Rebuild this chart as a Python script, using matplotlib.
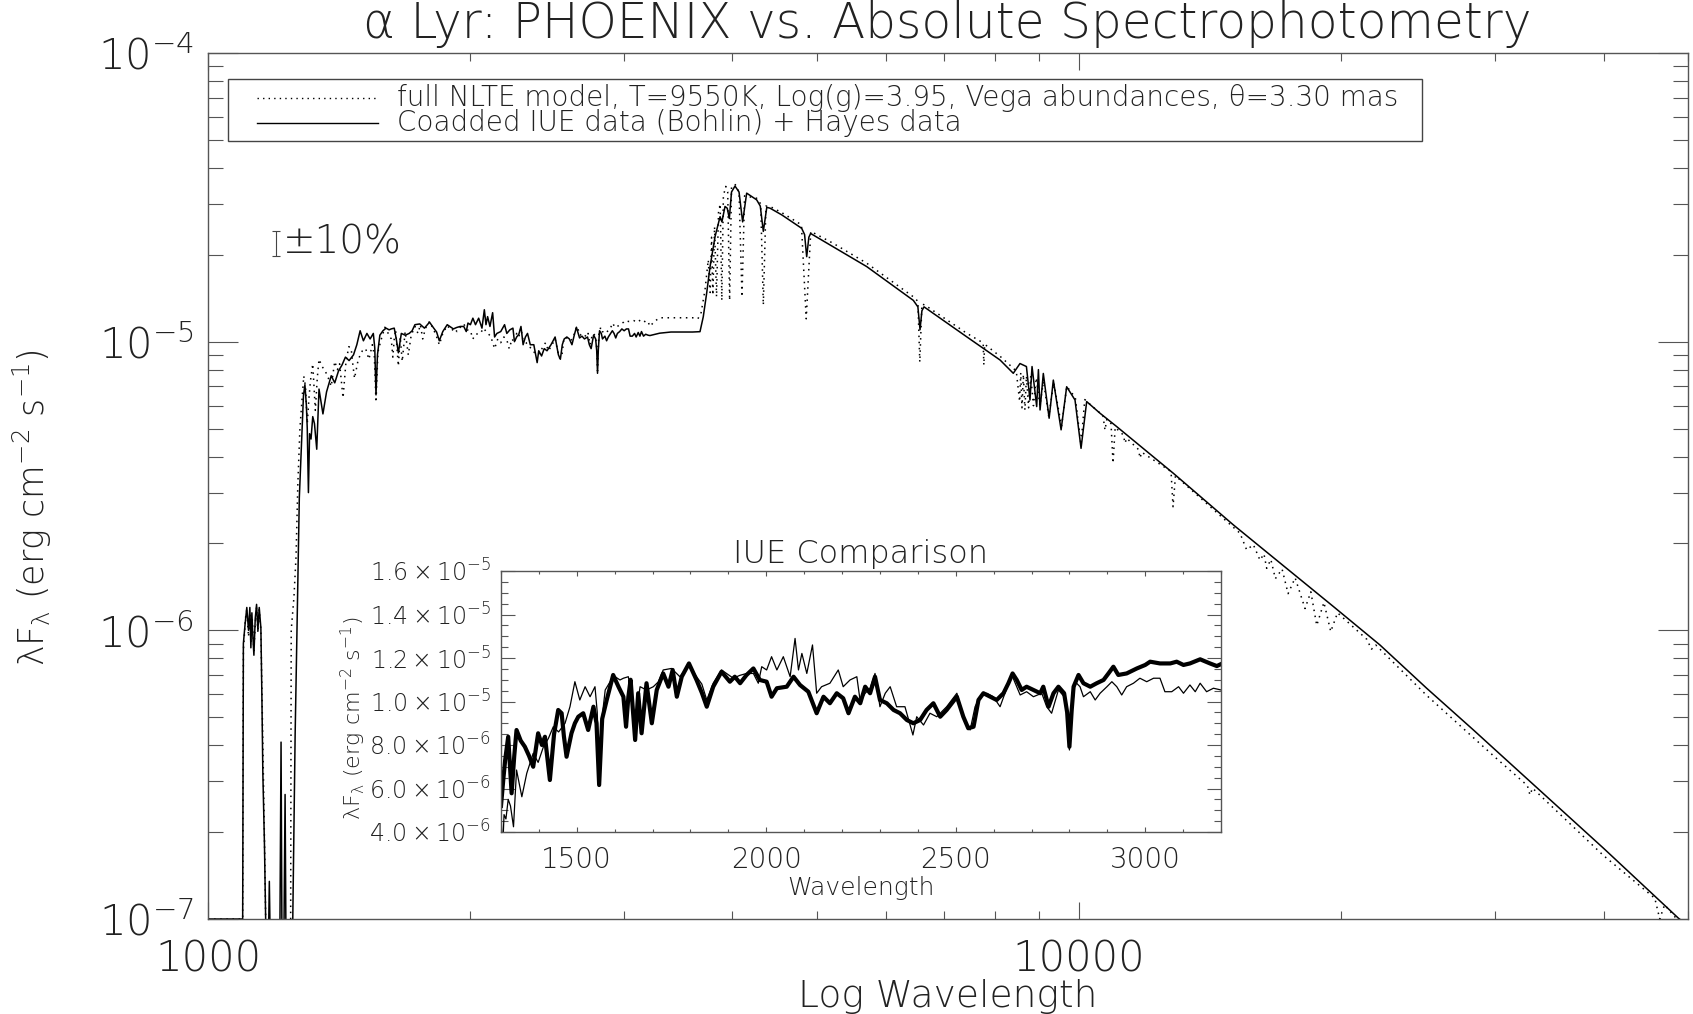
import numpy as np
import matplotlib
matplotlib.use('Agg')
import matplotlib.pyplot as plt
from matplotlib import font_manager as fm
from matplotlib.ticker import (LogLocator, FixedLocator, MultipleLocator,
                               FuncFormatter, NullFormatter)
from matplotlib.patches import Rectangle
from matplotlib.lines import Line2D

# ---------------------------------------------------------------- data
# far-UV part of the model (wavelength [A], lambda F_lambda [erg cm-2 s-1])
model_fuv = [(1000, 1.0e-7), (1096, 1.0e-7), (1098, 8.5e-7), (1104, 1.10e-6), (1108, 1.18e-6),
             (1113, 9.5e-7), (1117, 1.15e-6), (1120, 9.0e-7), (1124, 1.10e-6), (1129, 8.5e-7),
             (1133, 1.05e-6), (1137, 1.20e-6), (1141, 9.8e-7), (1145, 1.18e-6), (1150, 1.0e-6),
             (1153, 6.5e-7), (1157, 3.5e-7), (1162, 1.6e-7), (1166, 8e-8), (1244, 8e-8),
             (1246, 1.0e-6), (1255, 1.3e-6), (1262, 1.8e-6), (1268, 3.2e-6), (1275, 5.0e-6),
             (1282, 6.3e-6), (1288, 7.6e-6), (1294, 7.0e-6)]
obs_fuv = [(1000, 1.0e-7), (1096, 1.0e-7), (1098, 9.0e-7), (1103, 1.05e-6), (1108, 1.2e-6),
           (1113, 1.0e-6), (1117, 1.2e-6), (1120, 8.7e-7), (1123, 1.15e-6), (1126, 9.5e-7),
           (1129, 8.2e-7), (1133, 1.1e-6), (1137, 1.23e-6), (1141, 1.0e-6), (1145, 1.2e-6),
           (1150, 1.02e-6), (1153, 6.0e-7), (1156, 3.2e-7), (1161, 1.8e-7), (1166, 8e-8),
           (1173, 8e-8), (1176, 1.35e-7), (1179, 8e-8), (1209, 8e-8), (1213, 4.1e-7),
           (1216, 8e-8), (1222, 8e-8), (1226, 2.7e-7), (1229, 8e-8), (1250, 8e-8),
           (1259, 4.35e-7), (1266, 1.12e-6), (1273, 2.88e-6), (1281, 4.6e-6), (1287, 6.5e-6),
           (1292, 7.1e-6), (1297, 6.0e-6)]

# IUE range (flux in units of 1e-6)
model_uv = [(1300, 5.2), (1306, 6.4), (1311, 7.31), (1319, 8.38), (1328, 5.78), (1335, 7.5),
            (1341, 8.69), (1352, 8.2), (1363, 7.92), (1374, 7.5), (1385, 7.0), (1398, 8.54),
            (1408, 8.0), (1416, 8.38), (1429, 6.39), (1440, 8.5), (1451, 9.61), (1460, 9.46),
            (1466, 8.4), (1473, 7.46), (1486, 8.54), (1495, 9.0), (1504, 9.30), (1517, 9.46),
            (1530, 8.69), (1544, 9.76), (1552, 9.0), (1559, 6.16), (1567, 9.2), (1579, 10.07),
            (1596, 11.22), (1610, 10.68), (1623, 10.22), (1630, 8.84), (1636, 10.2), (1642, 11.0),
            (1654, 8.23), (1662, 10.38), (1671, 8.54), (1684, 10.84), (1698, 9.0), (1711, 10.53),
            (1728, 11.29), (1742, 10.68), (1753, 11.45), (1764, 10.22), (1777, 11.14),
            (1796, 11.75), (1816, 10.99), (1830, 10.4), (1843, 9.76), (1860, 10.68),
            (1882, 11.37), (1904, 10.91), (1917, 11.14), (1931, 10.84), (1948, 11.22),
            (1966, 11.52), (1983, 10.99), (2001, 10.91), (2014, 10.22), (2028, 10.61),
            (2054, 10.68), (2072, 11.14), (2089, 10.76), (2111, 10.45), (2133, 9.46),
            (2151, 10.22), (2168, 9.92), (2186, 10.38), (2203, 10.15), (2217, 9.46),
            (2234, 10.22), (2248, 9.92), (2261, 10.68), (2274, 10.38), (2287, 11.14),
            (2300, 10.07), (2318, 9.92), (2336, 9.61), (2353, 9.46), (2371, 9.15), (2388, 9.00),
            (2406, 9.15), (2423, 9.61), (2441, 9.92), (2459, 9.30), (2476, 9.61), (2503, 10.22),
            (2520, 9.30), (2533, 8.77), (2547, 8.84), (2560, 10.07), (2573, 10.38),
            (2591, 10.22), (2608, 10.07), (2626, 10.38), (2639, 10.84), (2650, 11.29),
            (2661, 10.99), (2674, 10.53), (2687, 10.68), (2705, 10.53), (2723, 10.38),
            (2731, 10.68), (2745, 9.76), (2758, 10.38), (2771, 10.68), (2786, 10.38),
            (2794, 9.5), (2800, 7.92), (2806, 9.6), (2811, 10.68), (2824, 11.22), (2837, 10.84),
            (2855, 10.68), (2872, 10.84), (2890, 10.99), (2903, 11.29), (2916, 11.60),
            (2929, 11.22), (2951, 11.29), (2978, 11.52), (3000, 11.68), (3013, 11.83),
            (3039, 11.75), (3066, 11.75), (3083, 11.83), (3101, 11.68), (3118, 11.75),
            (3145, 11.94), (3171, 11.75), (3189, 11.63), (3200, 11.72)]
obs_uv = [(1300, 5.0), (1304, 3.0), (1308, 4.8), (1313, 4.6), (1319, 5.5), (1325, 5.2),
          (1333, 4.24), (1341, 6.85), (1355, 5.62), (1368, 6.7), (1385, 7.62), (1398, 7.2),
          (1412, 7.92), (1425, 8.3), (1438, 8.84), (1452, 8.6), (1469, 9.0), (1482, 9.76),
          (1495, 10.91), (1508, 10.07), (1522, 10.68), (1535, 10.22), (1548, 10.68),
          (1554, 9.5), (1559, 6.54), (1565, 9.0), (1575, 10.53), (1588, 10.91), (1601, 11.14),
          (1614, 10.99), (1623, 11.07), (1636, 11.14), (1645, 10.2), (1654, 9.15),
          (1667, 10.68), (1684, 10.53), (1702, 10.68), (1715, 10.9), (1728, 11.45),
          (1750, 11.52), (1772, 11.14), (1796, 11.68), (1816, 11.14), (1830, 10.8),
          (1843, 10.07), (1860, 10.84), (1882, 11.45), (1913, 11.07), (1930, 11.2),
          (1948, 11.29), (1966, 11.29), (1979, 10.84), (1988, 11.6), (2001, 11.45),
          (2014, 12.06), (2028, 11.45), (2045, 12.06), (2063, 11.14), (2076, 12.90),
          (2085, 11.45), (2094, 12.21), (2107, 11.29), (2122, 12.60), (2133, 10.38),
          (2146, 10.68), (2168, 10.84), (2190, 11.45), (2203, 10.68), (2221, 10.99),
          (2239, 11.14), (2248, 10.0), (2261, 10.38), (2274, 10.6), (2287, 11.29),
          (2300, 9.76), (2314, 10.38), (2327, 10.68), (2344, 9.76), (2366, 9.76), (2387, 8.46),
          (2397, 9.30), (2415, 8.92), (2432, 9.46), (2450, 9.30), (2476, 9.76), (2503, 10.38),
          (2525, 9.00), (2538, 8.69), (2551, 9.76), (2564, 10.22), (2582, 10.38),
          (2599, 10.22), (2617, 9.76), (2633, 10.53), (2648, 11.22), (2661, 10.68),
          (2670, 10.30), (2687, 10.45), (2705, 10.22), (2727, 10.38), (2740, 9.76),
          (2753, 9.46), (2771, 10.53), (2786, 10.22), (2794, 9.3), (2800, 7.77), (2806, 9.4),
          (2815, 10.91), (2828, 10.68), (2837, 10.22), (2855, 10.45), (2868, 10.07),
          (2881, 10.38), (2899, 10.68), (2912, 10.91), (2925, 10.68), (2938, 10.30),
          (2951, 10.68), (2969, 10.84), (2986, 11.07), (3004, 10.91), (3022, 11.07),
          (3039, 11.07), (3052, 10.45), (3070, 10.45), (3088, 10.68), (3101, 10.38),
          (3118, 10.76), (3132, 10.45), (3145, 10.84), (3162, 10.45), (3180, 10.61),
          (3200, 10.53)]

# optical / infrared part
model_oir = [(3216, 1.13e-5), (3259, 1.18e-5), (3303, 1.21e-5), (3400, 1.21e-5), (3500, 1.21e-5),
             (3600, 1.21e-5), (3650, 1.20e-5), (3680, 1.25e-5), (3720, 1.51e-5), (3752, 1.92e-5),
             (3771, 1.48e-5), (3785, 2.3e-5), (3798, 1.45e-5), (3815, 2.5e-5), (3835, 1.43e-5),
             (3855, 2.8e-5), (3872, 3.0e-5), (3889, 1.39e-5), (3905, 3.2e-5), (3930, 3.45e-5),
             (3950, 3.3e-5), (3970, 1.39e-5), (3990, 3.45e-5), (4030, 3.5e-5), (4070, 3.3e-5),
             (4102, 1.43e-5), (4130, 3.2e-5), (4264, 3.14e-5), (4310, 3.0e-5), (4340, 1.34e-5),
             (4370, 2.95e-5), (4418, 2.94e-5), (4556, 2.8e-5), (4800, 2.54e-5), (4861, 1.20e-5),
             (4920, 2.41e-5), (5222, 2.19e-5), (5704, 1.87e-5), (6452, 1.43e-5), (6530, 1.38e-5),
             (6563, 8.5e-6), (6600, 1.35e-5), (6650, 1.34e-5), (7428, 1.07e-5), (7760, 9.9e-6),
             (7774, 8.3e-6), (7790, 9.8e-6), (8114, 8.9e-6), (8400, 8.1e-6), (8470, 7.9e-6),
             (8545, 6.2e-6), (8570, 7.8e-6), (8598, 5.9e-6), (8630, 7.7e-6), (8665, 5.8e-6),
             (8700, 7.6e-6), (8750, 5.9e-6), (8800, 7.6e-6), (8863, 6.0e-6), (8930, 7.5e-6),
             (9015, 6.0e-6), (9100, 7.3e-6), (9229, 5.5e-6), (9350, 7.2e-6), (9546, 5.1e-6),
             (9680, 7.0e-6), (9900, 6.4e-6), (10049, 4.4e-6), (10150, 6.3e-6), (10400, 5.9e-6),
             (10650, 5.55e-6), (10708, 4.94e-6), (10760, 5.38e-6), (10880, 5.2e-6),
             (10938, 3.79e-6), (11000, 5.05e-6), (11240, 4.75e-6), (11290, 4.45e-6),
             (11340, 4.63e-6), (11700, 4.23e-6), (11746, 3.95e-6), (11800, 4.14e-6),
             (12750, 3.55e-6), (12818, 2.68e-6), (12900, 3.43e-6), (15300, 2.17e-6),
             (15571, 1.90e-6), (15850, 1.98e-6), (16131, 1.75e-6), (16300, 1.84e-6),
             (16417, 1.64e-6), (16600, 1.76e-6), (16799, 1.51e-6), (17100, 1.63e-6),
             (17374, 1.34e-6), (17700, 1.52e-6), (18170, 1.19e-6), (18450, 1.36e-6),
             (18740, 1.04e-6), (19100, 1.25e-6), (19447, 0.99e-6), (19800, 1.15e-6),
             (21400, 9.3e-7), (21655, 8.6e-7), (21900, 8.9e-7), (25060, 5.95e-7),
             (29885, 3.68e-7), (32700, 2.9e-7), (32928, 2.69e-7), (33150, 2.84e-7),
             (39980, 1.66e-7), (45800, 1.18e-7), (46400, 1.0e-7), (47000, 1.12e-7),
             (50000, 9.0e-8)]
obs_oir = [(3216, 1.05e-5), (3300, 1.07e-5), (3400, 1.08e-5), (3500, 1.08e-5), (3600, 1.08e-5),
           (3671, 1.083e-5), (3703, 1.22e-5), (3736, 1.47e-5), (3770, 1.82e-5), (3820, 2.31e-5),
           (3871, 2.71e-5), (3890, 2.6e-5), (3922, 2.94e-5), (3945, 2.9e-5), (3967, 2.67e-5),
           (3990, 3.3e-5), (4027, 3.46e-5), (4070, 3.3e-5), (4109, 2.6e-5), (4153, 3.27e-5),
           (4264, 3.1e-5), (4305, 2.95e-5), (4340, 2.41e-5), (4380, 2.92e-5), (4418, 2.90e-5),
           (4556, 2.75e-5), (4803, 2.47e-5), (4840, 2.35e-5), (4867, 1.97e-5), (4895, 2.3e-5),
           (4918, 2.37e-5), (5222, 2.13e-5), (5704, 1.82e-5), (6452, 1.39e-5), (6530, 1.32e-5),
           (6567, 1.10e-5), (6600, 1.28e-5), (6637, 1.32e-5), (7428, 1.04e-5), (8114, 8.64e-6),
           (8403, 7.77e-6), (8553, 8.4e-6), (8700, 8.2e-6), (8782, 6.28e-6), (8830, 8.2e-6),
           (8939, 5.96e-6), (8980, 8.0e-6), (9019, 5.8e-6), (9097, 7.76e-6), (9238, 5.43e-6),
           (9341, 7.36e-6), (9535, 4.95e-6), (9676, 6.98e-6), (9892, 6.28e-6), (10051, 4.27e-6),
           (10202, 6.2e-6), (10568, 5.65e-6), (11044, 5.08e-6), (12828, 3.50e-6),
           (15031, 2.32e-6), (19577, 1.21e-6), (22146, 8.9e-7), (25060, 6.3e-7),
           (28349, 4.52e-7), (29885, 3.91e-7), (39980, 1.76e-7), (48740, 1.007e-7),
           (50000, 9.5e-8)]

legend_labels = ["full NLTE model, T=9550K, Log(g)=3.95, Vega abundances, θ=3.30 mas",
                 "Coadded IUE data (Bohlin) + Hayes data"]
title_text = "α Lyr: PHOENIX vs. Absolute Spectrophotometry"
inset_title = "IUE Comparison"
errbar_wave, errbar_flux, errbar_frac = 1197, 2.2e-5, 0.10
UV_UNIT = 1e-6

# ---------------------------------------------------------------- fonts
def pick_light_font():
    prefs = ['DejaVu Sans', 'Lato', 'Open Sans', 'Roboto', 'Inter', 'Noto Sans']
    for fam in prefs:
        ws = []
        for f in fm.fontManager.ttflist:
            if f.name == fam and f.style == 'normal':
                w = f.weight
                if not isinstance(w, (int, float)):
                    w = fm.weight_dict.get(str(w), 400)
                ws.append(int(w))
        light = [w for w in ws if w < 400]
        if light:
            return fam, min(light, key=lambda w: abs(w - 250))
    return 'DejaVu Sans', 400

LF, LW = pick_light_font()
plt.rcParams['font.family'] = [LF, 'DejaVu Sans']
plt.rcParams['font.weight'] = LW
plt.rcParams['axes.labelweight'] = LW
plt.rcParams['axes.titleweight'] = LW
try:
    plt.rcParams['mathtext.fontset'] = 'custom'
    for k in ('rm', 'it', 'bf', 'sf'):
        plt.rcParams['mathtext.' + k] = f'{LF}:weight={LW}'
except Exception:
    plt.rcParams['mathtext.fontset'] = 'dejavusans'
TXT = '#222222'
AXC = '#555555'
plt.rcParams['text.color'] = TXT
plt.rcParams['axes.labelcolor'] = TXT

# ---------------------------------------------------------------- assemble
def unzip(pairs, scale=1.0):
    a = np.array(pairs, dtype=float)
    return a[:, 0], a[:, 1] * scale

mw = np.concatenate([unzip(model_fuv)[0], unzip(model_uv)[0], unzip(model_oir)[0]])
mf = np.concatenate([unzip(model_fuv)[1], unzip(model_uv, UV_UNIT)[1], unzip(model_oir)[1]])
ow = np.concatenate([unzip(obs_fuv)[0], unzip(obs_uv)[0], unzip(obs_oir)[0]])
of = np.concatenate([unzip(obs_fuv)[1], unzip(obs_uv, UV_UNIT)[1], unzip(obs_oir)[1]])

W, H = 1693, 1014
fig = plt.figure(figsize=(W / 100, H / 100), dpi=100)
fig.patch.set_facecolor('white')

# main axes
ax = fig.add_axes([208 / W, 1 - 919 / H, 1480 / W, 866 / H])
ax.set_xscale('log')
ax.set_yscale('log')
DOT = (0, (1, 3))
ax.plot(mw, mf, color='k', lw=1.1, linestyle=DOT)
ax.plot(ow, of, color='k', lw=1.1)
ax.set_xlim(1000, 50000)
ax.set_ylim(1e-7, 1e-4)

ax.xaxis.set_major_locator(FixedLocator([1000, 10000]))
ax.xaxis.set_minor_locator(LogLocator(base=10, subs=np.arange(2, 10), numticks=20))
ax.xaxis.set_major_formatter(FuncFormatter(lambda v, p: f'{v:.0f}'))
ax.xaxis.set_minor_formatter(NullFormatter())
ax.yaxis.set_major_locator(LogLocator(base=10, numticks=10))
ax.yaxis.set_minor_locator(LogLocator(base=10, subs=np.arange(2, 10), numticks=20))
ax.yaxis.set_major_formatter(FuncFormatter(
    lambda v, p: r'$10^{%d}$' % int(np.round(np.log10(v)))))
ax.yaxis.set_minor_formatter(NullFormatter())
ax.tick_params(which='both', direction='in', top=True, right=True,
               color=AXC, labelcolor=TXT, width=0.8)
ax.tick_params(axis='y', which='major', length=21.6, pad=10, labelsize=30)
ax.tick_params(axis='y', which='minor', length=10.8)
ax.tick_params(axis='x', which='major', length=12.2, pad=14, labelsize=30)
ax.tick_params(axis='x', which='minor', length=6.0)
for s in ax.spines.values():
    s.set_color(AXC)
    s.set_linewidth(1.0)

ax.set_xlabel('Log Wavelength', fontsize=27)
ax.xaxis.set_label_coords(0.5, -(996 - 919) / 866)
ax.xaxis.label.set_va('center')
ax.set_ylabel(r'λF$_{λ}$ (erg cm$^{-2}$ s$^{-1}$)', fontsize=25)
ax.yaxis.set_label_coords((32 - 208) / 1480, 0.475)
ax.yaxis.label.set_va('center')

fig.text(947 / W, 1 - 24 / H, title_text, ha='center', va='center', fontsize=35)

# legend box
ax.add_patch(Rectangle((0.0135, 0.898), 0.8065, 0.072, transform=ax.transAxes,
                       fill=False, edgecolor='#444444', lw=1.0, zorder=5))
for i, (lab, ls) in enumerate(zip(legend_labels, [DOT, '-'])):
    yy = 0.948 - i * 0.029
    ax.add_line(Line2D([0.0331, 0.1149], [yy, yy], transform=ax.transAxes,
                       color='k', lw=1.0, linestyle=ls))
    ax.text(0.1277, yy, lab, transform=ax.transAxes, fontsize=20, va='center', ha='left')

# +-10% error bar indicator
ax.errorbar([errbar_wave], [errbar_flux],
            yerr=[[errbar_flux * errbar_frac], [errbar_flux * errbar_frac]],
            fmt='none', ecolor='#444444', elinewidth=0.8, capsize=3, capthick=0.8)
ax.text(errbar_wave * 1.018, errbar_flux, '±10%', fontsize=28, va='center', ha='left')

# ---------------------------------------------------------------- inset
axin = fig.add_axes([501 / W, 1 - 832 / H, 720 / W, 261 / H])
axin.set_facecolor('white')
mwu, mfu = unzip(model_uv, UV_UNIT)
owu, ofu = unzip(obs_uv, UV_UNIT)
axin.plot(mwu, mfu, color='k', lw=3.0)
axin.plot(owu, ofu, color='k', lw=0.9)
axin.set_xlim(1300, 3200)
axin.set_ylim(4e-6, 1.6e-5)
axin.xaxis.set_major_locator(MultipleLocator(500))
axin.xaxis.set_minor_locator(MultipleLocator(100))
axin.yaxis.set_major_locator(MultipleLocator(2e-6))
axin.yaxis.set_minor_locator(MultipleLocator(5e-7))

def sci(v, p):
    if v <= 0:
        return ''
    e = int(np.floor(np.log10(v) + 1e-9))
    m = v / 10 ** e
    return r'$%.1f\times10^{%d}$' % (m, e)

axin.yaxis.set_major_formatter(FuncFormatter(sci))
axin.tick_params(which='both', direction='in', top=True, right=True,
                 color=AXC, labelcolor=TXT, width=0.8)
axin.tick_params(axis='y', which='major', length=10.4, pad=7, labelsize=17)
axin.tick_params(axis='y', which='minor', length=5.3)
axin.tick_params(axis='x', which='major', length=3.8, pad=10, labelsize=20)
axin.tick_params(axis='x', which='minor', length=1.9)
for s in axin.spines.values():
    s.set_color(AXC)
    s.set_linewidth(1.0)
axin.set_title(inset_title, fontsize=23, pad=6)
axin.set_xlabel('Wavelength', fontsize=18)
axin.xaxis.set_label_coords(0.5, -(888 - 832) / 261)
axin.xaxis.label.set_va('center')
axin.set_ylabel(r'λF$_{λ}$ (erg cm$^{-2}$ s$^{-1}$)', fontsize=16)
axin.yaxis.set_label_coords((353 - 501) / 720, 0.437)
axin.yaxis.label.set_va('center')

fig.savefig('out.png', dpi=100, facecolor='white')
